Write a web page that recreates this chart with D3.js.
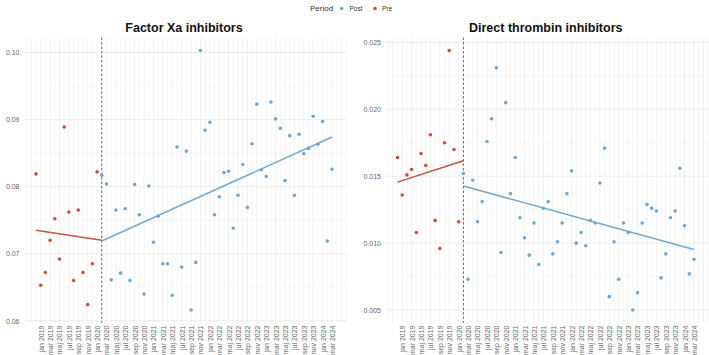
<!DOCTYPE html>
<html>
<head>
<meta charset="utf-8">
<script src="https://cdn.jsdelivr.net/npm/d3@7"></script>
<style>
  body { margin: 0; background: #fff; }
  svg { font-family: "Liberation Sans", Arial, sans-serif; }
</style>
</head>
<body>
<svg width="709" height="355"></svg>
<script>
// Monthly series, index 0 = first month; index 14 = first post month
const tickLabels = [
  "jan 2019", "mar 2019", "maj 2019", "jul 2019", "sep 2019", "nov 2019",
  "jan 2020", "mar 2020", "maj 2020", "jul 2020", "sep 2020", "nov 2020",
  "jan 2021", "mar 2021", "maj 2021", "jul 2021", "sep 2021", "nov 2021",
  "jan 2022", "mar 2022", "maj 2022", "jul 2022", "sep 2022", "nov 2022",
  "jan 2023", "mar 2023", "maj 2023", "jul 2023", "sep 2023", "nov 2023",
  "jan 2024", "mar 2024"
];
const tickIndex = tickLabels.map((d, i) => 1 + i * 2);
const breakIndex = 14;
const lastIndex = 63;

// Factor Xa inhibitors
const xaPre = [0.0819, 0.0653, 0.0672, 0.0720, 0.0752, 0.0692, 0.0889, 0.0762, 0.0660, 0.0765,
  0.0672, 0.0624, 0.0685, 0.0822];
const xaPost = [0.0817, 0.0804, 0.0661, 0.0765, 0.0671, 0.0767, 0.0660, 0.0803, 0.0758, 0.0640,
  0.0801, 0.0717, 0.0756, 0.0685, 0.0685, 0.0638, 0.0859, 0.0680, 0.0853, 0.0616,
  0.0687, 0.1003, 0.0884, 0.0896, 0.0758, 0.0785, 0.0821, 0.0823, 0.0738, 0.0787,
  0.0833, 0.0769, 0.0864, 0.0923, 0.0825, 0.0815, 0.0926, 0.0901, 0.0887, 0.0809,
  0.0876, 0.0787, 0.0878, 0.0849, 0.0857, 0.0905, 0.0863, 0.0897, 0.0719, 0.0826];
const xaTrendPre = [0.0735, 0.0720];
const xaTrendPost = [0.0719, 0.0874];
const xaTicks = [0.06, 0.07, 0.08, 0.09, 0.10];

// Direct thrombin inhibitors
const dtiPre = [0.0164, 0.0136, 0.0151, 0.0155, 0.0108, 0.0167, 0.0158, 0.0181, 0.0117, 0.0096,
  0.0175, 0.0244, 0.0170, 0.0116];
const dtiPost = [0.0152, 0.0073, 0.0147, 0.0116, 0.0131, 0.0176, 0.0193, 0.0231, 0.0093, 0.0205,
  0.0137, 0.0164, 0.0119, 0.0104, 0.0091, 0.0115, 0.0084, 0.0126, 0.0131, 0.0092,
  0.0101, 0.0115, 0.0137, 0.0154, 0.0100, 0.0108, 0.0098, 0.0117, 0.0115, 0.0145,
  0.0171, 0.0060, 0.0101, 0.0073, 0.0115, 0.0108, 0.0050, 0.0063, 0.0115, 0.0129,
  0.0126, 0.0124, 0.0074, 0.0092, 0.0119, 0.0124, 0.0156, 0.0113, 0.0077, 0.0088];
const dtiTrendPre = [0.01456, 0.01616];
const dtiTrendPost = [0.01427, 0.00952];
const dtiTicks = [0.005, 0.010, 0.015, 0.020, 0.025];

const colPost = "#72a8d0";
const colPre = "#c5533f";

const svg = d3.select("svg");
const panelTop = 37.5, panelBottom = 323;

const panels = [
  { title: "Factor Xa inhibitors", pre: xaPre, post: xaPost, tPre: xaTrendPre, tPost: xaTrendPost,
    ticks: xaTicks, fmt: d3.format(".2f"), x0: 25, x1: 347 },
  { title: "Direct thrombin inhibitors", pre: dtiPre, post: dtiPost, tPre: dtiTrendPre, tPost: dtiTrendPost,
    ticks: dtiTicks, fmt: d3.format(".3f"), x0: 386.5, x1: 709 }
];

panels.forEach(p => {
  const g = svg.append("g");
  const x = d3.scaleLinear().domain([0, lastIndex]).range([p.x0 + 11, p.x1 - 15]);

  const all = p.pre.concat(p.post);
  const [lo, hi] = d3.extent(all);
  const pad = (hi - lo) * 0.05;
  const y = d3.scaleLinear().domain([lo - pad, hi + pad]).range([panelBottom, panelTop]);

  // minor horizontal grid
  const step = p.ticks[1] - p.ticks[0];
  const minor = p.ticks.map(t => t - step / 2).concat([p.ticks[p.ticks.length - 1] + step / 2])
    .filter(t => y(t) >= panelTop && y(t) <= panelBottom);
  g.selectAll(".hminor").data(minor).enter().append("line")
    .attr("x1", p.x0).attr("x2", p.x1)
    .attr("y1", d => y(d)).attr("y2", d => y(d))
    .attr("stroke", "#f2f2f2").attr("stroke-width", 0.6);

  // vertical monthly grid
  const months = d3.range(-3, lastIndex + 4).filter(i => x(i) >= p.x0 && x(i) <= p.x1);
  g.selectAll(".vgrid").data(months).enter().append("line")
    .attr("x1", d => x(d)).attr("x2", d => x(d))
    .attr("y1", panelTop).attr("y2", panelBottom)
    .attr("stroke", d => d % 2 ? "#e8e8e8" : "#f0f0f0").attr("stroke-width", 0.6);

  // major horizontal grid
  g.selectAll(".hmajor").data(p.ticks).enter().append("line")
    .attr("x1", p.x0).attr("x2", p.x1)
    .attr("y1", d => y(d)).attr("y2", d => y(d))
    .attr("stroke", "#e9e9e9").attr("stroke-width", 0.8);

  // y axis
  const yAxis = g.append("g").attr("transform", `translate(${p.x0 - 2.5},0)`)
    .call(d3.axisLeft(y).tickValues(p.ticks).tickFormat(p.fmt).tickSize(0));
  yAxis.select(".domain").remove();
  yAxis.selectAll("text").attr("fill", "#666").style("font-size", "7px");

  // x axis
  const xAxis = g.append("g").attr("transform", `translate(0,${panelBottom + 2.5})`)
    .call(d3.axisBottom(x).tickValues(tickIndex).tickFormat((d, i) => tickLabels[i]).tickSize(0));
  xAxis.select(".domain").remove();
  xAxis.selectAll("text")
    .attr("transform", "rotate(-90)")
    .attr("text-anchor", "end")
    .attr("x", 0).attr("y", 0).attr("dy", "0.35em")
    .attr("fill", "#666").style("font-size", "7px");

  // intervention line
  g.append("line")
    .attr("x1", x(breakIndex)).attr("x2", x(breakIndex))
    .attr("y1", panelTop).attr("y2", panelBottom)
    .attr("stroke", "#444").attr("stroke-width", 0.8).attr("stroke-dasharray", "2.5,2");

  // points
  g.selectAll(".pre").data(p.pre).enter().append("circle")
    .attr("cx", (d, i) => x(i)).attr("cy", d => y(d)).attr("r", 1.8).attr("fill", colPre);
  g.selectAll(".post").data(p.post).enter().append("circle")
    .attr("cx", (d, i) => x(breakIndex + i)).attr("cy", d => y(d)).attr("r", 1.8).attr("fill", colPost);

  // trend lines
  const line = d3.line().x(d => x(d.i)).y(d => y(d.v));
  g.append("path")
    .datum([{ i: 0, v: p.tPre[0] }, { i: breakIndex, v: p.tPre[1] }])
    .attr("d", line).attr("fill", "none").attr("stroke", colPre).attr("stroke-width", 1.5);
  g.append("path")
    .datum([{ i: breakIndex, v: p.tPost[0] }, { i: lastIndex, v: p.tPost[1] }])
    .attr("d", line).attr("fill", "none").attr("stroke", colPost).attr("stroke-width", 1.5);

  // title
  svg.append("text")
    .attr("x", (p.x0 + p.x1) / 2 - 2).attr("y", 31.5)
    .attr("text-anchor", "middle")
    .style("font-size", "12.5px").style("font-weight", "bold").attr("fill", "#111")
    .text(p.title);
});

// legend
const legend = svg.append("g");
legend.append("text").attr("x", 310).attr("y", 11).style("font-size", "8px").attr("fill", "#333").text("Period");
legend.append("circle").attr("cx", 341.7).attr("cy", 8.5).attr("r", 1.8).attr("fill", colPost);
legend.append("text").attr("x", 349.5).attr("y", 11).style("font-size", "6.5px").attr("fill", "#333").text("Post");
legend.append("circle").attr("cx", 375).attr("cy", 8.5).attr("r", 1.8).attr("fill", colPre);
legend.append("text").attr("x", 382).attr("y", 11).style("font-size", "6.5px").attr("fill", "#333").text("Pre");
</script>
</body>
</html>
